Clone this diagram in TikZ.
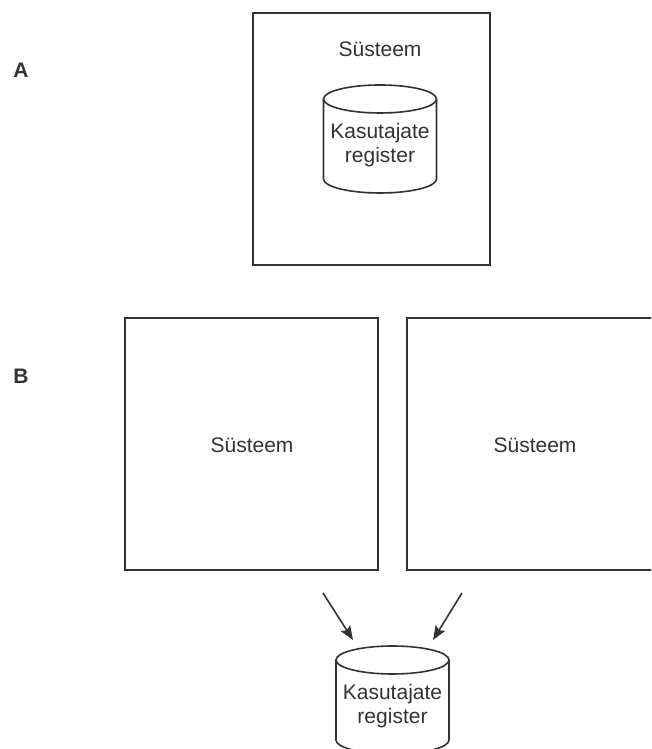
\documentclass[tikz,border=0pt]{standalone}
\usepackage{fontspec}
\setmainfont{Liberation Sans}
\usetikzlibrary{arrows.meta}
\definecolor{ink}{HTML}{333333}
\tikzset{
  sysbox/.style={draw=ink, line width=1.7pt, minimum width=#1, minimum height=252pt, inner sep=0pt},
  lbl/.style={text=ink, font=\fontsize{21}{24}\selectfont, align=center, inner sep=0pt},
  part/.style={text=ink, font=\fontsize{21}{24}\selectfont\bfseries, inner sep=0pt},
  cyl/.style={draw=ink, line width=1.6pt},
  flow/.style={draw=ink, line width=1.6pt, -{Stealth[length=14pt, width=11pt, inset=2.5pt]}}
}
% a database drum: centre x, top-ellipse y, bottom-ellipse y
\newcommand{\drum}[3]{%
  \draw[cyl] (#1,#2) ellipse [x radius=56.5pt, y radius=14pt];
  \draw[cyl] (#1-56.5,#2) -- (#1-56.5,#3)
    arc [start angle=180, end angle=360, x radius=56.5pt, y radius=14pt]
    -- (#1+56.5,#2);
}
\begin{document}
\begin{tikzpicture}[x=1pt, y=1pt]
  \useasboundingbox (0,0) rectangle (651,749);
  \clip (0,0) rectangle (651,749);

  % part A: one system holding its own user register
  \node[part] (la) at (21,678.5) {A};
  \node[sysbox=237pt] (sysA) at (371.5,610) {};
  \node[lbl] (tA) at (380,700) {Süsteem};
  \drum{380}{650}{570}
  \node[lbl] (regA) at (380,604) {Kasutajate\\register};

  % part B: two systems sharing one user register
  \node[part] (lb) at (21,373) {B};
  \node[sysbox=253pt] (sysB1) at (251.5,305) {};
  \node[lbl] (tB1) at (252,304) {Süsteem};
  \node[sysbox=256pt] (sysB2) at (535,305) {};
  \node[lbl] (tB2) at (535,304) {Süsteem};
  \drum{392.5}{89}{9}
  \node[lbl] (regB) at (392.5,43) {Kasutajate\\register};

  \coordinate (s1) at (323,156);
  \coordinate (e1) at (353,109);
  \coordinate (s2) at (462,156);
  \coordinate (e2) at (433,109);
  \draw[flow] (s1) -- (e1);
  \draw[flow] (s2) -- (e2);
\end{tikzpicture}
\end{document}
